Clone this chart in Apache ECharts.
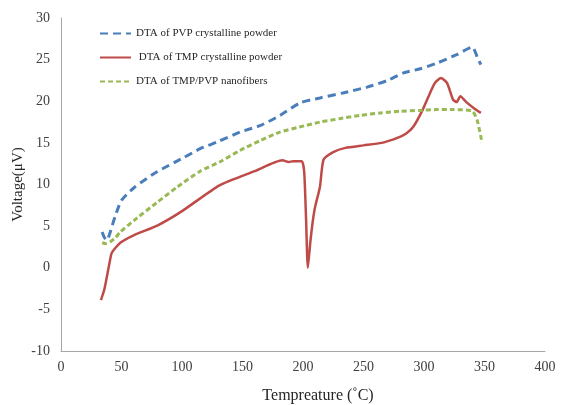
<!DOCTYPE html>
<html>
<head>
<meta charset="utf-8">
<script src="https://cdn.jsdelivr.net/npm/echarts@6/dist/echarts.min.js"></script>
<style>
  html, body { margin: 0; padding: 0; background: #fff; }
  #chart { width: 563px; height: 405px; }
</style>
</head>
<body>
<div id="chart"></div>
<script>
// series names
const seriesNames = ['DTA of PVP crystalline powder', ' DTA of TMP crystalline powder', 'DTA of TMP/PVP nanofibers'];

// PVP crystalline powder (blue dashed)
const pvpT = [34, 36, 38, 40.5, 44.6, 50, 61, 79, 101, 115, 129, 148, 165, 181, 197.5, 214, 233, 253, 270, 283, 297, 311, 327, 340, 344, 347];
const pvpV = [4.3, 3.6, 3.3, 4.2, 6.1, 8.1, 9.7, 11.5, 13.2, 14.3, 15.1, 16.3, 17.1, 18.3, 19.8, 20.4, 21.0, 21.7, 22.5, 23.4, 23.9, 24.6, 25.6, 26.5, 25.3, 24.4];

// TMP crystalline powder (red solid)
const tmpT = [33, 36, 40, 42, 49, 60, 80, 100, 131, 160, 183, 188, 192, 199, 201, 202.5, 204, 206, 208, 210, 214, 217, 225, 235, 250, 265, 278, 285, 291, 299, 305, 309, 314, 319, 324, 327, 330, 335, 341, 347];
const tmpV = [-3.9, -2.5, 0.5, 1.8, 3.0, 3.9, 5.1, 6.8, 9.9, 11.6, 12.9, 12.7, 12.8, 12.8, 11.5, 6, 0, 3, 5.5, 7.3, 9.7, 13.0, 13.9, 14.4, 14.7, 15.0, 15.6, 16.1, 16.9, 19, 21, 22.2, 22.8, 22.2, 20.2, 19.9, 20.6, 19.9, 19.2, 18.6];

// TMP/PVP nanofibers (green dotted)
const nfT = [34, 37, 40.5, 45, 49, 63, 79, 96, 115, 131, 148, 165, 181, 197, 214, 230, 247, 264, 280, 297, 310, 324, 340, 344, 348];
const nfV = [3.0, 2.9, 3.1, 3.6, 4.3, 6.0, 7.8, 9.7, 11.6, 12.7, 14.1, 15.3, 16.3, 16.9, 17.5, 17.9, 18.3, 18.6, 18.8, 18.9, 19.0, 19.0, 18.8, 17.7, 15];

// axis ticks
const xTicks = [0, 50, 100, 150, 200, 250, 300, 350, 400];
const yTicks = [-10, -5, 0, 5, 10, 15, 20, 25, 30];

function pairs(xs, ys) {
  return xs.map((x, i) => [x, ys[i]]);
}

const serif = '"Liberation Serif", "DejaVu Serif", serif';

const chart = echarts.init(document.getElementById('chart'));
chart.setOption({
  backgroundColor: '#fff',
  animation: false,
  grid: { left: 61, right: 18, top: 18, bottom: 54, outerBoundsMode: 'none' },
  legend: {
    orient: 'vertical',
    left: 94,
    top: 23,
    itemWidth: 31,
    itemHeight: 10,
    itemGap: 13,
    itemStyle: { opacity: 0 },
    textStyle: { fontFamily: serif, fontSize: 11, color: '#262626' },
    data: seriesNames
  },
  xAxis: {
    type: 'value',
    min: xTicks[0],
    max: xTicks[xTicks.length - 1],
    interval: 50,
    name: 'Tempreature (˚C)',
    nameLocation: 'middle',
    nameGap: 37,
    nameMoveOverlap: false,
    nameTextStyle: { fontFamily: serif, fontSize: 16, color: '#262626', padding: [0, 0, 0, 30] },
    axisLine: { onZero: false, lineStyle: { color: '#a6a6a6' } },
    axisTick: { show: false },
    splitLine: { show: false },
    axisLabel: { fontFamily: serif, fontSize: 14, color: '#404040', margin: 9 }
  },
  yAxis: {
    type: 'value',
    min: yTicks[0],
    max: yTicks[yTicks.length - 1],
    interval: 5,
    name: 'Voltage(μV)',
    nameLocation: 'middle',
    nameGap: 35,
    nameMoveOverlap: false,
    nameTextStyle: { fontFamily: serif, fontSize: 15, color: '#262626' },
    axisLine: { show: true, onZero: false, lineStyle: { color: '#a6a6a6' } },
    axisTick: { show: false },
    splitLine: { show: false },
    axisLabel: { fontFamily: serif, fontSize: 14, color: '#404040', margin: 11 }
  },
  series: [
    {
      name: seriesNames[0],
      type: 'line',
      data: pairs(pvpT, pvpV),
      symbol: 'none',
      smooth: 0.2,
      lineStyle: { color: '#4a7ebb', width: 3, type: [8, 5] },
      itemStyle: { color: '#4a7ebb' }
    },
    {
      name: seriesNames[1],
      type: 'line',
      data: pairs(tmpT, tmpV),
      symbol: 'none',
      smooth: 0.2,
      lineStyle: { color: '#be4b48', width: 2.5 },
      itemStyle: { color: '#be4b48' }
    },
    {
      name: seriesNames[2],
      type: 'line',
      data: pairs(nfT, nfV),
      symbol: 'none',
      smooth: 0.2,
      lineStyle: { color: '#98b954', width: 3, type: [5, 3] },
      itemStyle: { color: '#98b954' }
    }
  ]
});
</script>
</body>
</html>
